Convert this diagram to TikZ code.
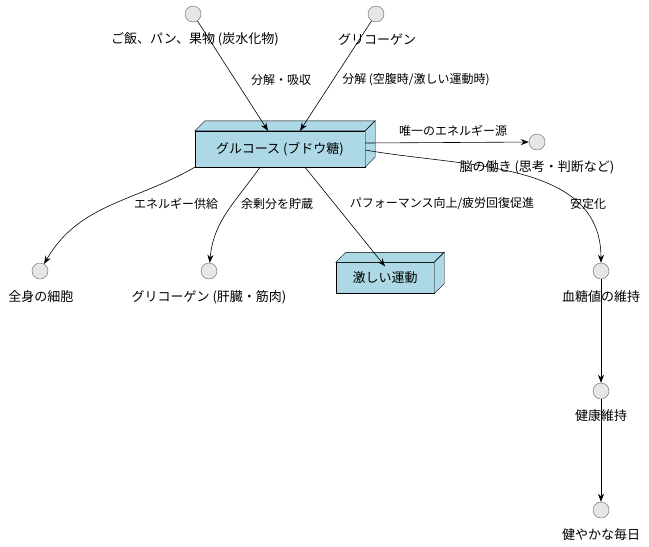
\documentclass[tikz,border=0pt]{standalone}
\usepackage{fontspec}
\setmainfont{Noto Sans CJK JP}
\usetikzlibrary{arrows.meta,positioning}

\definecolor{boxblue}{HTML}{ADD8E6}
\definecolor{dotgray}{HTML}{E6E6E6}

\tikzset{
  dot/.style={circle,draw=black!60,fill=dotgray,minimum size=16pt,inner sep=0pt},
  lbl/.style={font=\fontsize{13}{15}\selectfont},
  elbl/.style={font=\fontsize{12}{14}\selectfont,inner sep=1pt},
  cube/.style={draw,fill=boxblue,inner sep=0pt,font=\fontsize{13}{15}\selectfont},
  flow/.style={-{Stealth[length=8pt,width=6pt]},line width=0.6pt}
}

% front face node plus top and side faces
\newcommand{\cubefaces}[1]{%
  \draw[fill=boxblue] (#1.north west) -- ++(10,-10) -- ([shift={(10,-10)}]#1.north east) -- (#1.north east) -- cycle;
  \draw[fill=boxblue] (#1.north east) -- ++(10,-10) -- ([shift={(10,-10)}]#1.south east) -- (#1.south east) -- cycle;
}

\begin{document}
\begin{tikzpicture}[x=1pt,y=-1pt]
  \useasboundingbox (0,0) rectangle (649,547);

  % sources
  \node[dot] (rice) at (193,14) {};
  \node[lbl] at (195,39) {ご飯、パン、果物 (炭水化物)};
  \node[dot] (stock) at (376,14) {};
  \node[lbl] at (377,39) {グリコーゲン};

  % glucose
  \node[cube,minimum width=170pt,minimum height=36pt] (glu) at (280,149) {グルコース (ブドウ糖)};
  \cubefaces{glu}

  % targets
  \node[dot] (brain) at (537,142) {};
  \node[lbl] at (537,167) {脳の働き (思考・判断など)};
  \node[dot] (cell) at (40,271) {};
  \node[lbl] at (41,297) {全身の細胞};
  \node[dot] (store) at (209,271) {};
  \node[lbl] at (209,297) {グリコーゲン (肝臓・筋肉)};
  \node[cube,minimum width=98pt,minimum height=31pt] (sport) at (385,278) {激しい運動};
  \cubefaces{sport}
  \node[dot] (blood) at (601,271) {};
  \node[lbl] at (601,297) {血糖値の維持};
  \node[dot] (health) at (601,391) {};
  \node[lbl] at (601,416) {健康維持};
  \node[dot] (daily) at (601,510) {};
  \node[lbl] at (601,535) {健やかな毎日};

  % connectors
  \draw[flow] (rice) -- ([xshift=-12pt]glu.north);
  \draw[flow] (stock) -- ([xshift=20pt]glu.north);
  \draw[flow] ([yshift=6pt]glu.east) -- (brain);
  \draw[flow] (glu.south west) to[out=-150,in=60] (cell);
  \draw[flow] ([xshift=-20pt]glu.south) to[out=-125,in=85] (store);
  \draw[flow] ([xshift=25pt]glu.south) -- ([yshift=-4pt]sport.north);
  \draw[flow] ([yshift=-1pt]glu.east) to[out=-10,in=90] (blood);
  \draw[flow] (blood) -- (health);
  \draw[flow] (health) -- (daily);

  % connector labels
  \node[elbl] (l1) at (281,80) {分解・吸収};
  \node[elbl] (l2) at (416,80) {分解 (空腹時/激しい運動時)};
  \node[elbl] (l3) at (453,131) {唯一のエネルギー源};
  \node[elbl] (l4) at (176,204) {エネルギー供給};
  \node[elbl] (l5) at (277,204) {余剰分を貯蔵};
  \node[elbl] (l6) at (442,204) {パフォーマンス向上/疲労回復促進};
  \node[elbl] (l7) at (588,204) {安定化};
\end{tikzpicture}
\end{document}
